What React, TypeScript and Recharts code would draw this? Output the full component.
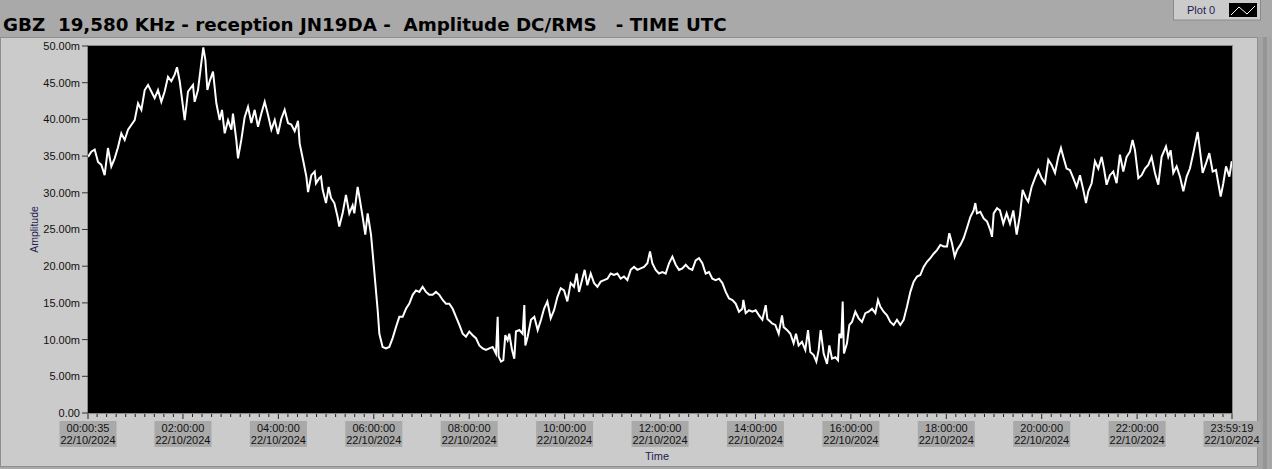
import React from 'react';
import { LineChart, Line, XAxis, YAxis, Label } from 'recharts';

// ---- data: time in minutes since 00:00 UTC (22/10/2024), amplitude in milli-units ----
const minutesNight = [0.6,4.8,9.0,13.2,17.4,21.5,25.7,29.9,34.1,38.3,42.5,46.7,50.9,59.3,63.5,67.7,71.9,76.1,80.2,84.4,88.6,92.8,97.0,101.2,105.4,109.6,112.5,115.9,120.1,122.2,126.4,132.6,134.7,138.9,143.1,145.6,148.2,150.7,153.6,157.8,162.0,166.2,169.1,172.5,176.7,180.9,182.9,187.1,189.2,193.4,197.6,201.8,206.0,210.2,214.4,218.6,222.8,227.0,231.2,235.4,239.5,243.7,247.9,252.1,256.3,260.5,264.7,266.8,271.0,275.2,277.3,281.5,285.7];
const amplitudeNight = [34.9,35.6,35.9,34.2,33.8,32.4,36.1,33.6,34.7,36.2,38.1,37.2,38.6,39.9,42.2,41.3,44.0,44.7,43.8,42.9,44.0,42.4,43.8,45.8,45.2,46.1,47.1,45.2,41.7,39.9,43.8,44.7,42.4,44.0,47.7,49.8,48.1,44.0,45.2,46.5,42.2,39.9,41.3,38.1,39.9,38.6,40.8,37.2,34.7,37.2,40.3,41.7,39.5,41.3,39.0,40.8,42.4,40.6,38.6,39.9,38.0,40.1,41.3,39.5,39.3,38.4,39.8,36.7,34.5,32.2,30.1,32.4,32.9];

const minutesMorning = [287.3,291.5,293.6,295.7,299.9,303.2,306.2,310.4,314.5,316.6,320.8,325.0,329.2,333.4,335.5,339.7,341.8,346.0,349.3,352.3,356.5,359.4,361.9,364.9,367.0,371.1,375.3,379.5,383.7,387.9,392.1,396.3,400.5,404.7,408.9,413.1,417.3,421.4,425.6,429.8,434.0,438.2,442.4,446.6,450.8,455.0,459.2,463.4,467.6,471.8,475.9,480.1,484.3,488.5,492.7,496.9,501.1,505.3,509.5,513.7,515.8,517.0,520.0,522.9,525.4,528.3,530.4,533.8,536.7,538.8,543.0,547.2,549.3,550.6,553.5,557.7,561.9,566.1,570.3];
const amplitudeMorning = [31.3,32.0,32.2,30.4,28.6,30.8,29.3,28.6,26.7,25.4,27.2,29.7,27.2,28.3,27.2,30.8,29.5,26.7,24.3,27.2,24.3,20.8,17.7,14.0,10.8,9.0,8.8,9.0,10.2,11.7,13.1,13.1,14.2,14.9,16.1,16.7,16.5,17.2,16.5,16.1,16.1,16.5,16.1,15.4,14.9,14.9,14.2,13.1,12.0,10.8,10.4,11.1,10.6,10.2,9.2,8.8,8.6,8.8,9.0,8.1,13.1,7.7,7.0,7.2,10.6,9.9,10.8,8.6,7.4,11.1,11.3,10.8,14.7,9.2,10.4,12.7,13.1,11.3,12.7];

const minutesMidday = [574.1,578.3,582.5,586.7,590.9,595.1,599.3,603.4,607.6,611.8,615.2,618.1,622.3,625.2,628.6,632.8,637.0,641.2,645.4,649.6,653.8,657.9,662.1,666.3,670.5,674.7,678.9,683.1,687.3,691.5,695.7,699.9,704.1,707.4,710.3,714.5,718.7,722.9,727.1,731.3,735.5,739.7,743.9,748.1,752.3,756.5,760.6,764.8,769.0,773.2,777.4,781.6,785.8,790.0,794.2,798.4,802.6,806.8,811.0,815.1,819.3,823.5,824.8,827.7,831.9,836.1,840.3,844.5,848.7,852.9,855.0,859.2];
const amplitudeMidday = [14.2,15.2,12.9,14.0,15.8,17.0,16.7,15.2,17.7,17.2,19.0,16.5,18.3,19.5,17.4,19.0,17.7,17.2,17.9,18.1,18.3,19.0,18.8,19.0,18.3,18.6,18.1,19.5,19.9,19.5,19.7,19.9,20.4,22.0,20.4,19.5,19.0,19.2,19.0,20.4,21.3,20.2,19.5,19.7,20.2,19.7,19.5,20.8,21.1,20.4,19.0,19.2,18.3,18.1,18.3,17.7,16.5,15.6,15.4,14.9,13.8,14.2,15.4,13.6,14.0,13.8,14.0,13.3,12.7,14.7,12.8,12.4];

const minutesAfternoon = [860.8,865.0,869.2,873.4,875.5,879.7,883.9,888.0,891.0,894.3,898.5,902.7,906.1,909.0,913.2,916.6,919.5,922.0,925.8,930.0,932.9,936.3,940.5,943.8,945.5,948.0,949.7,951.3,955.1,958.1,961.4,965.6,969.8,974.0,978.2,982.4,986.6,990.8,994.1,997.0,1001.2,1005.4,1009.6,1013.8,1018.0,1022.2,1026.4,1030.6,1034.8,1039.0,1043.2,1047.3,1051.5,1055.7,1059.9,1064.1,1068.3,1072.5,1076.7,1080.9,1083.8,1087.2,1090.5,1093.5,1097.7,1101.8,1106.0,1110.2,1114.4,1116.5,1118.6,1122.8,1127.0,1131.2,1135.4,1137.5,1139.6,1143.8];
const amplitudeAfternoon = [12.2,12.0,10.8,13.3,11.7,11.3,10.8,9.5,10.8,9.2,9.7,8.6,11.3,8.3,7.9,7.0,8.6,11.3,8.1,6.7,9.2,7.4,7.6,7.2,10.8,10.2,15.2,8.1,9.5,12.0,12.4,13.8,12.9,12.4,13.6,13.8,14.2,13.6,15.4,14.5,13.8,13.3,12.4,12.0,12.7,12.0,12.7,14.5,16.5,17.9,18.6,18.8,19.9,20.6,21.1,21.7,22.2,22.9,22.7,22.7,24.5,23.1,21.3,22.2,22.9,23.8,25.2,26.7,27.6,28.6,27.2,27.4,26.5,26.1,24.9,24.0,27.2,27.9];

const minutesEvening = [1147.5,1151.7,1155.9,1160.1,1164.3,1168.5,1172.7,1176.0,1180.2,1183.1,1187.3,1191.5,1195.7,1199.9,1204.1,1208.3,1212.5,1216.7,1220.9,1224.2,1227.1,1231.3,1235.5,1239.7,1243.9,1248.1,1252.3,1255.7,1258.6,1262.8,1267.0,1271.2,1275.4,1278.3,1281.6,1285.8,1290.0,1294.2,1298.4,1302.6,1306.8,1311.0,1314.3,1317.3,1321.5,1325.7,1329.9,1334.0,1338.2,1342.4,1346.6,1350.8,1356.3,1359.2,1362.1,1365.5,1369.7,1373.9,1378.1,1382.3,1386.4,1390.6,1394.0,1396.1,1399.0,1402.4,1406.6,1410.8,1415.0,1419.2,1422.1,1425.1,1428.4,1431.8,1436.0,1439.0];
const amplitudeEvening = [27.6,25.8,27.2,25.8,27.6,24.3,27.0,30.4,29.3,28.8,30.8,32.0,33.1,32.0,31.3,34.5,33.8,32.7,34.9,36.1,34.9,33.3,33.1,32.0,30.8,32.4,30.4,28.6,30.2,31.3,34.3,33.3,34.9,33.3,31.1,32.4,32.9,31.3,35.2,32.9,34.9,35.6,37.2,35.8,32.0,32.4,33.3,33.8,34.9,32.7,31.1,34.9,36.3,34.9,35.8,32.7,33.6,32.2,30.2,32.2,33.3,35.4,37.2,38.3,35.8,32.7,34.0,35.4,32.9,33.1,31.3,29.5,31.3,33.6,32.2,34.3];

// ---- axes ----
const startMinute = 0.58;   // 00:00:35
const endMinute = 1439.32;  // 23:59:19
const majorTickMinutes = [0.58, 120, 240, 360, 480, 600, 720, 840, 960, 1080, 1200, 1320, 1439.32];
const majorTickTimes = ['00:00:35', '02:00:00', '04:00:00', '06:00:00', '08:00:00', '10:00:00', '12:00:00', '14:00:00', '16:00:00', '18:00:00', '20:00:00', '22:00:00', '23:59:19'];
const dateLabel = '22/10/2024';
const minorTickStep = 12;
const yTicks = [0, 5, 10, 15, 20, 25, 30, 35, 40, 45, 50];

const titleText = 'GBZ  19,580 KHz - reception JN19DA -  Amplitude DC/RMS   - TIME UTC';
const legendName = 'Plot 0';

const segments: [number[], number[]][] = [
  [minutesNight, amplitudeNight],
  [minutesMorning, amplitudeMorning],
  [minutesMidday, amplitudeMidday],
  [minutesAfternoon, amplitudeAfternoon],
  [minutesEvening, amplitudeEvening],
];
const data = segments.flatMap(([m, a]) => m.map((t, i) => ({ t, v: a[i] })));

const minorTicks: number[] = [];
for (let m = minorTickStep; m < endMinute; m += minorTickStep) {
  if (!majorTickMinutes.includes(m)) minorTicks.push(m);
}
const allXTicks = [...majorTickMinutes, ...minorTicks].sort((a, b) => a - b);

const FONT = '"Liberation Sans", Arial, sans-serif';

const XTick = (props: any) => {
  const { x, y, payload } = props;
  const idx = majorTickMinutes.indexOf(payload.value);
  const major = idx >= 0;
  return (
    <g>
      <line x1={x} x2={x} y1={y + 1} y2={y + (major ? 6 : 4)} stroke="#222" strokeWidth={1} />
      {major && (
        <g>
          <rect x={x - 28.5} y={y + 8} width={57} height={26} fill="#a9a9a9" />
          <text x={x} y={y + 19} textAnchor="middle" fontFamily={FONT} fontSize={11} fill="#111">
            {majorTickTimes[idx]}
          </text>
          <text x={x} y={y + 31} textAnchor="middle" fontFamily={FONT} fontSize={11} fill="#111">
            {dateLabel}
          </text>
        </g>
      )}
    </g>
  );
};

const fmtY = (v: number) => (v === 0 ? '0.00' : `${v.toFixed(2)}m`);

export default function App() {
  return (
    <div style={{ position: 'absolute', left: 0, top: 0, width: 1272, height: 469, background: '#a9a9a9', overflow: 'hidden' }}>
      <svg width={1272} height={469} style={{ position: 'absolute', left: 0, top: 0 }}>
        <rect x={0} y={0} width={1272} height={469} fill="#a9a9a9" />
        <rect x={0.5} y={37.5} width={1257} height={429} fill="#cbcbcb" stroke="#8e8e8e" />
        <rect x={1258} y={37} width={5} height={432} fill="#a4a4a4" />
        <rect x={1263} y={37} width={4} height={432} fill="#959595" />
        <rect x={1267} y={37} width={5} height={432} fill="#a6a6a6" />
        <rect x={87.5} y={45.5} width={1145} height={368} fill="#000" stroke="#8a8a8a" />
        <text x={3} y={31} fontFamily='"DejaVu Sans", sans-serif' fontWeight="bold" fontSize={18.3} fill="#000" style={{ whiteSpace: 'pre' }}>
          {titleText}
        </text>
        <rect x={1173.5} y={-1} width={87} height={21} fill="#cbcbcb" stroke="#8a8a8a" />
        <text x={1187} y={14} fontFamily={FONT} fontSize={11} fill="#1c1c50">{legendName}</text>
        <rect x={1229} y={3} width={28} height={14} fill="#000" />
        <polyline points="1231,15 1239,7 1247,14 1255,6" fill="none" stroke="#fff" strokeWidth={1} />
      </svg>
      <div style={{ position: 'absolute', left: 0, top: 0 }}>
        <LineChart width={1272} height={469} data={data} margin={{ top: 46, right: 40, bottom: 0, left: 0 }}>
          <XAxis
            dataKey="t"
            type="number"
            domain={[startMinute, endMinute]}
            ticks={allXTicks}
            interval={0}
            tick={<XTick />}
            tickLine={false}
            axisLine={false}
            tickSize={0}
            tickMargin={0}
            height={56}
            allowDataOverflow
          >
            <Label
              content={(p: any) => {
                const vb = p.viewBox;
                return (
                  <text x={vb.x + vb.width / 2 - 3} y={vb.y + 43} textAnchor="middle" dominantBaseline="central" fontFamily={FONT} fontSize={11} fill="#1c1c50">
                    Time
                  </text>
                );
              }}
            />
          </XAxis>
          <YAxis
            type="number"
            domain={[0, 50]}
            ticks={yTicks}
            interval={0}
            width={88}
            tickSize={6}
            tickMargin={2}
            axisLine={false}
            tickLine={{ stroke: '#333' }}
            tickFormatter={fmtY}
            tick={{ fontFamily: FONT, fontSize: 11, fill: '#111' }}
            allowDataOverflow
          >
            <Label
              content={(p: any) => {
                const vb = p.viewBox;
                const cx = 34;
                const cy = vb.y + vb.height / 2;
                return (
                  <text x={cx} y={cy} transform={`rotate(-90 ${cx} ${cy})`} textAnchor="middle" dominantBaseline="central" fontFamily={FONT} fontSize={10.5} fill="#1c1c50">
                    Amplitude
                  </text>
                );
              }}
            />
          </YAxis>
          <Line type="linear" dataKey="v" stroke="#ffffff" strokeWidth={2} dot={false} isAnimationActive={false} />
        </LineChart>
      </div>
    </div>
  );
}
